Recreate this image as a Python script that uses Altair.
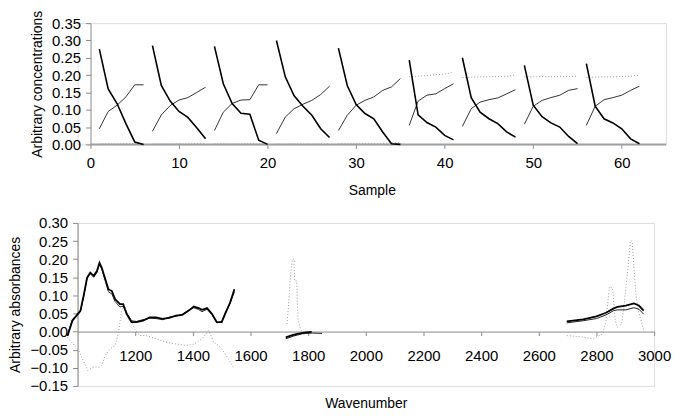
import altair as alt
import pandas as pd

# ---------------- top panel data ----------------
batch_sizes = [6, 7, 7, 7, 8, 6, 7, 7, 7]

comp_black = [
    0.275, 0.160, 0.118, 0.060, 0.007, 0.000,
    0.285, 0.170, 0.125, 0.095, 0.078, 0.048, 0.016,
    0.283, 0.175, 0.118, 0.090, 0.087, 0.012, 0.000,
    0.300, 0.195, 0.140, 0.110, 0.084, 0.045, 0.020,
    0.278, 0.170, 0.115, 0.089, 0.074, 0.036, 0.002, 0.000,
    0.243, 0.085, 0.063, 0.050, 0.026, 0.013,
    0.250, 0.135, 0.093, 0.074, 0.060, 0.036, 0.021,
    0.228, 0.113, 0.080, 0.062, 0.050, 0.023, 0.002,
    0.233, 0.110, 0.074, 0.062, 0.045, 0.016, 0.002,
]
comp_gray = [
    0.045, 0.095, 0.113, 0.137, 0.172, 0.172,
    0.038, 0.085, 0.112, 0.128, 0.135, 0.150, 0.165,
    0.040, 0.093, 0.118, 0.128, 0.129, 0.172, 0.172,
    0.031, 0.079, 0.103, 0.116, 0.127, 0.144, 0.168,
    0.040, 0.084, 0.113, 0.127, 0.137, 0.156, 0.166, 0.190,
    0.055, 0.125, 0.142, 0.146, 0.161, 0.175,
    0.052, 0.103, 0.122, 0.129, 0.134, 0.146, 0.158,
    0.058, 0.110, 0.127, 0.135, 0.142, 0.156, 0.161,
    0.055, 0.110, 0.129, 0.135, 0.142, 0.156, 0.168,
]
comp_dotted = [
    0.001, 0.002, 0.001, 0.002, 0.002, 0.001,
    0.001, 0.001, 0.001, 0.002, 0.001, 0.002, 0.001,
    0.002, 0.002, 0.001, 0.001, 0.002, 0.001, 0.001,
    0.001, 0.001, 0.001, 0.001, 0.001, 0.001, 0.001,
    0.002, 0.002, 0.002, 0.002, 0.002, 0.003, 0.004, 0.005,
    0.195, 0.197, 0.199, 0.201, 0.203, 0.208,
    0.193, 0.194, 0.195, 0.195, 0.196, 0.197, 0.200,
    0.195, 0.195, 0.196, 0.195, 0.196, 0.196, 0.197,
    0.193, 0.194, 0.195, 0.195, 0.196, 0.197, 0.200,
]
sample_ticks = [0, 10, 20, 30, 40, 50, 60]
conc_ticks = [0.0, 0.05, 0.10, 0.15, 0.20, 0.25, 0.30, 0.35]

samples = []
batches = []
s = 1
for b, n in enumerate(batch_sizes):
    for _ in range(n):
        samples.append(s)
        batches.append(b)
        s += 1

top_black = pd.DataFrame({"sample": samples, "batch": batches, "value": comp_black})
top_gray = pd.DataFrame({"sample": samples, "batch": batches, "value": comp_gray})
top_dot = pd.DataFrame({"sample": samples, "batch": batches, "value": comp_dotted})

# ---------------- bottom panel data ----------------
r1_wn = [965, 982, 1001, 1010, 1022, 1033, 1044, 1056, 1067, 1076, 1084, 1096,
         1107, 1119, 1130, 1147, 1158, 1170, 1187, 1204, 1227, 1250, 1272, 1295,
         1318, 1341, 1363, 1386, 1403, 1420, 1432, 1449, 1466, 1483, 1500, 1512,
         1529, 1544]
r1_a = [-0.012, 0.030, 0.049, 0.058, 0.103, 0.149, 0.163, 0.154, 0.167, 0.190, 0.176, 0.145,
        0.117, 0.112, 0.090, 0.076, 0.076, 0.049, 0.026, 0.026, 0.030, 0.039, 0.039, 0.035,
        0.038, 0.044, 0.046, 0.058, 0.069, 0.065, 0.060, 0.065, 0.049, 0.026, 0.026, 0.049,
        0.080, 0.117]
r1_b = [-0.008, 0.034, 0.047, 0.055, 0.100, 0.146, 0.160, 0.150, 0.163, 0.186, 0.172, 0.140,
        0.110, 0.104, 0.083, 0.068, 0.070, 0.052, 0.030, 0.028, 0.033, 0.037, 0.036, 0.033,
        0.040, 0.042, 0.048, 0.060, 0.066, 0.061, 0.055, 0.062, 0.047, 0.024, 0.028, 0.052,
        0.078, 0.110]
r1d_wn = [965, 1004, 1035, 1056, 1067, 1079, 1084, 1096, 1113, 1130, 1141, 1153, 1161,
          1170, 1187, 1198, 1215, 1238, 1272, 1306, 1341, 1375, 1400, 1432, 1455, 1472,
          1489, 1500, 1523, 1540]
r1d_c = [-0.016, -0.052, -0.107, -0.098, -0.098, -0.098, -0.093, -0.065, -0.048, -0.038,
         -0.006, 0.058, 0.076, 0.058, 0.030, 0.007, -0.011, -0.011, -0.020, -0.029, -0.034,
         -0.038, -0.036, -0.020, 0.003, -0.029, -0.038, -0.048, -0.075, -0.098]

r2a_wn = [1722, 1745, 1762, 1791, 1812]
r2_a = [-0.016, -0.010, -0.006, -0.002, -0.001]
r2b_wn = [1722, 1750, 1780, 1815, 1848]
r2_b = [-0.020, -0.012, -0.006, -0.004, -0.005]
r2d_wn = [1726, 1731, 1737, 1745, 1751, 1753, 1760, 1765, 1774, 1785, 1800]
r2d_c = [0.021, 0.062, 0.140, 0.200, 0.200, 0.140, 0.140, 0.030, 0.005, -0.002, -0.003]

r3_wn = [2697, 2754, 2800, 2833, 2860, 2873, 2902, 2930, 2947, 2964]
r3_a = [0.028, 0.034, 0.042, 0.052, 0.064, 0.068, 0.072, 0.078, 0.072, 0.058]
r3_b = [0.024, 0.030, 0.036, 0.046, 0.058, 0.060, 0.060, 0.066, 0.062, 0.048]
r3d_wn = [2697, 2743, 2788, 2822, 2833, 2845, 2856, 2865, 2873, 2887, 2895, 2907,
          2918, 2924, 2930, 2938, 2947, 2958, 2964]
r3d_c = [-0.011, -0.014, -0.020, -0.006, 0.030, 0.124, 0.120, 0.030, 0.012, 0.021, 0.067,
         0.158, 0.250, 0.250, 0.176, 0.094, 0.053, 0.021, 0.003]

wn_ticks = [1200, 1400, 1600, 1800, 2000, 2200, 2400, 2600, 2800, 3000]
abs_ticks = [-0.15, -0.10, -0.05, 0.0, 0.05, 0.10, 0.15, 0.20, 0.25, 0.30]


def seg(wns, vals, region):
    return pd.DataFrame({"wn": wns, "value": vals, "region": [region] * len(wns)})


bot_a = pd.concat([seg(r1_wn, r1_a, 1), seg(r2a_wn, r2_a, 2), seg(r3_wn, r3_a, 3)])
bot_b = pd.concat([seg(r1_wn, r1_b, 1), seg(r2b_wn, r2_b, 2), seg(r3_wn, r3_b, 3)])
bot_d = pd.concat([seg(r1d_wn, r1d_c, 1), seg(r2d_wn, r2d_c, 2), seg(r3d_wn, r3d_c, 3)])

FONT = "Liberation Sans"
AXIS_GRAY = "#8a8a8a"

# ---------------- top chart ----------------
x_top = alt.X(
    "sample:Q",
    scale=alt.Scale(domain=[-1.456, 65], nice=False, zero=False),
    axis=alt.Axis(values=sample_ticks, format="d", domain=False, tickSize=4,
                  tickColor=AXIS_GRAY, labelPadding=7, labelFontSize=15, labelFont=FONT,
                  labelColor="black", labelOverlap=False, title="Sample", titleFont=FONT,
                  titleFontSize=14, titleFontWeight="normal", titlePadding=13,
                  titleColor="black", grid=False, labelFlush=False),
)
y_top = alt.Y(
    "value:Q",
    scale=alt.Scale(domain=[0, 0.35], nice=False),
    axis=alt.Axis(values=conc_ticks, format=".2f", offset=-13, domainColor=AXIS_GRAY,
                  tickColor=AXIS_GRAY, tickSize=5, labelPadding=5, labelFontSize=15,
                  labelFont=FONT, labelColor="black", labelOverlap=False,
                  title="Arbitrary concentrations", titleFont=FONT, titleFontSize=14,
                  titleFontWeight="normal", titlePadding=6, titleX=-46,
                  titleColor="black", grid=False),
)

axis_df = pd.DataFrame({"sample": [0], "sample_end": [65], "value": [0.0]})
top_axis_line = alt.Chart(axis_df).mark_rule(color="#a0a0a0", strokeWidth=2).encode(
    x=x_top, x2="sample_end:Q", y=y_top
)

top_dot_layer = alt.Chart(top_dot).mark_line(
    color="#9a9a9a", strokeWidth=1, strokeDash=[1, 2]
).encode(x=x_top, y=y_top, detail="batch:N")
top_gray_layer = alt.Chart(top_gray).mark_line(
    color="#333333", strokeWidth=1
).encode(x=x_top, y=y_top, detail="batch:N")
top_black_layer = alt.Chart(top_black).mark_line(
    color="black", strokeWidth=1.6
).encode(x=x_top, y=y_top, detail="batch:N")

top = alt.layer(top_axis_line, top_dot_layer, top_gray_layer, top_black_layer).properties(
    width=592, height=122
)

# ---------------- bottom chart ----------------
x_bot = alt.X(
    "wn:Q",
    scale=alt.Scale(domain=[1000, 3000], nice=False, zero=False),
    axis=alt.Axis(values=wn_ticks, format="d", offset=-54.7, domainColor=AXIS_GRAY,
                  tickColor=AXIS_GRAY, tickSize=4, labelPadding=13, labelFontSize=15,
                  labelFont=FONT, labelColor="black", labelOverlap=False,
                  title="Wavenumber", titleFont=FONT, titleFontSize=14,
                  titleFontWeight="normal", titlePadding=33, titleColor="black",
                  grid=False, labelFlush=False),
)
y_bot = alt.Y(
    "value:Q",
    scale=alt.Scale(domain=[-0.15, 0.30], nice=False, zero=False),
    axis=alt.Axis(values=abs_ticks, format=".2f", domainColor=AXIS_GRAY, tickColor=AXIS_GRAY,
                  tickSize=5, labelPadding=5, labelFontSize=15, labelFont=FONT,
                  labelColor="black", labelOverlap=False, title="Arbitrary absorbances",
                  titleFont=FONT, titleFontSize=14, titleFontWeight="normal",
                  titlePadding=7, titleColor="black", grid=False),
)

bot_d_layer = alt.Chart(bot_d).mark_line(
    color="#9a9a9a", strokeWidth=1, strokeDash=[1, 2]
).encode(x=x_bot, y=y_bot, detail="region:N", order="wn:Q")
bot_b_layer = alt.Chart(bot_b).mark_line(
    color="#222222", strokeWidth=1
).encode(x=x_bot, y=y_bot, detail="region:N", order="wn:Q")
bot_a_layer = alt.Chart(bot_a).mark_line(
    color="black", strokeWidth=1.8
).encode(x=x_bot, y=y_bot, detail="region:N", order="wn:Q")

bottom = alt.layer(bot_d_layer, bot_b_layer, bot_a_layer).properties(width=580, height=164)

chart = alt.vconcat(top, bottom, spacing=17).properties(
    padding={"left": 0, "top": 0, "right": 0, "bottom": 0}
).configure_view(stroke=None).configure(background="white")

chart.save("out.html", embed_options={"renderer": "svg", "actions": False})
